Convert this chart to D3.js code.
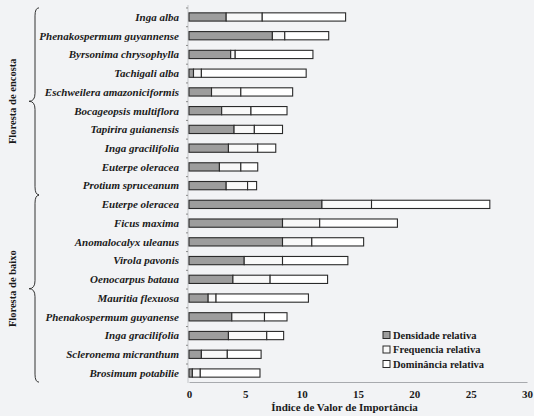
<!DOCTYPE html>
<html>
<head>
<meta charset="utf-8">
<script src="https://cdn.jsdelivr.net/npm/d3@7"></script>
<style>
  body { margin: 0; background: #f2f3f5; }
  svg { display: block; background: #f2f3f5; }
  .species { font-family: "Liberation Serif", "DejaVu Serif", serif; font-style: italic; font-weight: bold; font-size: 11px; fill: #1a1a1a; }
  .tick-label { font-family: "Liberation Serif", serif; font-weight: bold; font-size: 11px; fill: #1a1a1a; }
  .group-label { font-family: "Liberation Serif", serif; font-weight: bold; font-size: 10.5px; fill: #1a1a1a; }
  .legend-label { font-family: "Liberation Serif", serif; font-weight: bold; font-size: 10.5px; fill: #1a1a1a; }
  .axis-title { font-family: "Liberation Serif", serif; font-weight: bold; font-size: 11px; fill: #1a1a1a; }
</style>
</head>
<body>
<div id="chart"></div>
<script>
const species = [
    "Inga alba", "Phenakospermum guyannense", "Byrsonima chrysophylla", "Tachigali alba",
    "Eschweilera amazoniciformis", "Bocageopsis multiflora", "Tapirira guianensis",
    "Inga gracilifolia", "Euterpe oleracea", "Protium spruceanum",
    "Euterpe oleracea", "Ficus maxima", "Anomalocalyx uleanus", "Virola pavonis",
    "Oenocarpus bataua", "Mauritia flexuosa", "Phenakospermum guyanense",
    "Inga gracilifolia", "Scleronema micranthum", "Brosimum potabilie"
];
const groups = ["Floresta de encosta", "Floresta de baixo"];
const groupOf = [0,0,0,0,0,0,0,0,0,0, 1,1,1,1,1,1,1,1,1,1];

const densidade  = [3.3, 7.4, 3.7, 0.4, 2.0, 2.9, 4.0, 3.5, 2.7, 3.3,
                    11.8, 8.3, 8.3, 4.9, 3.9, 1.7, 3.8, 3.5, 1.1, 0.3];
const frequencia = [3.2, 1.1, 0.4, 0.7, 2.6, 2.6, 1.8, 2.6, 1.9, 1.9,
                    4.4, 3.3, 2.6, 3.4, 3.3, 0.7, 2.9, 3.4, 2.3, 0.7];
const dominancia = [7.4, 3.9, 6.9, 9.3, 4.6, 3.2, 2.5, 1.6, 1.5, 0.8,
                    10.5, 6.9, 4.6, 5.8, 5.1, 8.2, 2.0, 1.5, 3.0, 5.3];

const xTicks = [0, 5, 10, 15, 20, 25, 30];
const seriesKeys = ["densidade", "frequencia", "dominancia"];
const seriesNames = ["Densidade relativa", "Frequencia relativa", "Dominância relativa"];
const seriesFill = ["#9d9d9d", "#f8f8f8", "#ffffff"];

const width = 534, height = 416;

const rows = species.map((s, i) => ({
    id: i, name: s, group: groupOf[i],
    densidade: densidade[i], frequencia: frequencia[i], dominancia: dominancia[i]
}));

const svg = d3.select("#chart").append("svg")
    .attr("width", width)
    .attr("height", height);

const x = d3.scaleLinear().domain([0, 30]).range([189, 527]);
const y = d3.scaleBand()
    .domain(rows.map(d => d.id))
    .range([7.6, 382.4])
    .paddingInner(0.56)
    .paddingOuter(0.28);

// faint left axis with small ticks
svg.append("line")
    .attr("x1", 188).attr("x2", 188)
    .attr("y1", 5).attr("y2", 383)
    .attr("stroke", "#c4c6c9").attr("stroke-width", 1);
svg.append("g").selectAll("line")
    .data(rows)
    .join("line")
    .attr("x1", 186).attr("x2", 188)
    .attr("y1", d => y(d.id) + y.bandwidth() / 2 - 9)
    .attr("y2", d => y(d.id) + y.bandwidth() / 2 - 9)
    .attr("stroke", "#888");

// bottom axis
const xAxis = svg.append("g")
    .attr("transform", "translate(0,382)")
    .call(d3.axisBottom(x).tickValues(xTicks).tickSize(0).tickPadding(8));
xAxis.select(".domain").attr("stroke", "#a8aaae").attr("stroke-width", 1.2);
xAxis.selectAll("text").attr("class", "tick-label").attr("font-family", null).attr("font-size", null);

svg.append("text")
    .attr("class", "axis-title")
    .attr("x", x(13.8))
    .attr("y", 411)
    .attr("text-anchor", "middle")
    .text("Índice de Valor de Importância");

// stacked bars
const stack = d3.stack().keys(seriesKeys);
const layers = stack(rows);

svg.append("g").selectAll("g")
    .data(layers)
    .join("g")
    .attr("fill", (d, i) => seriesFill[i])
    .selectAll("rect")
    .data(d => d)
    .join("rect")
    .attr("x", d => x(d[0]))
    .attr("y", d => y(d.data.id))
    .attr("width", d => x(d[1]) - x(d[0]))
    .attr("height", y.bandwidth())
    .attr("stroke", "#2a2a2a")
    .attr("stroke-width", 1.1);

// species labels
svg.append("g").selectAll("text")
    .data(rows)
    .join("text")
    .attr("class", "species")
    .attr("x", 179)
    .attr("y", d => y(d.id) + y.bandwidth() / 2)
    .attr("dy", "0.35em")
    .attr("text-anchor", "end")
    .text(d => d.name);

// curly braces for the two forest types
function bracePath(xb, y0, y1, depth) {
    const ym = (y0 + y1) / 2;
    const xt = xb - depth;
    return `M${xb + 4},${y0} Q${xb},${y0} ${xb},${y0 + 8} L${xb},${ym - 8} Q${xb},${ym} ${xt},${ym}` +
           ` Q${xb},${ym} ${xb},${ym + 8} L${xb},${y1 - 8} Q${xb},${y1} ${xb + 4},${y1}`;
}

groups.forEach((g, gi) => {
    const ids = rows.filter(d => d.group === gi).map(d => d.id);
    const y0 = y(ids[0]) - 5;
    const y1 = y(ids[ids.length - 1]) + y.bandwidth() + 5;
    svg.append("path")
        .attr("d", bracePath(35, y0, y1, 6))
        .attr("fill", "none")
        .attr("stroke", "#333")
        .attr("stroke-width", 1);
    svg.append("text")
        .attr("class", "group-label")
        .attr("transform", `translate(16,${(y0 + y1) / 2}) rotate(-90)`)
        .attr("text-anchor", "middle")
        .text(g);
});

// legend
const legend = svg.append("g").attr("transform", "translate(383,335)");
const items = legend.selectAll("g")
    .data(seriesNames)
    .join("g")
    .attr("transform", (d, i) => `translate(0,${i * 14.5})`);
items.append("rect")
    .attr("x", 0).attr("y", -3.5)
    .attr("width", 7).attr("height", 7)
    .attr("fill", (d, i) => seriesFill[i])
    .attr("stroke", "#2a2a2a")
    .attr("stroke-width", 1);
items.append("text")
    .attr("class", "legend-label")
    .attr("x", 10)
    .attr("y", 0)
    .attr("dy", "0.35em")
    .text(d => d);
</script>
</body>
</html>
